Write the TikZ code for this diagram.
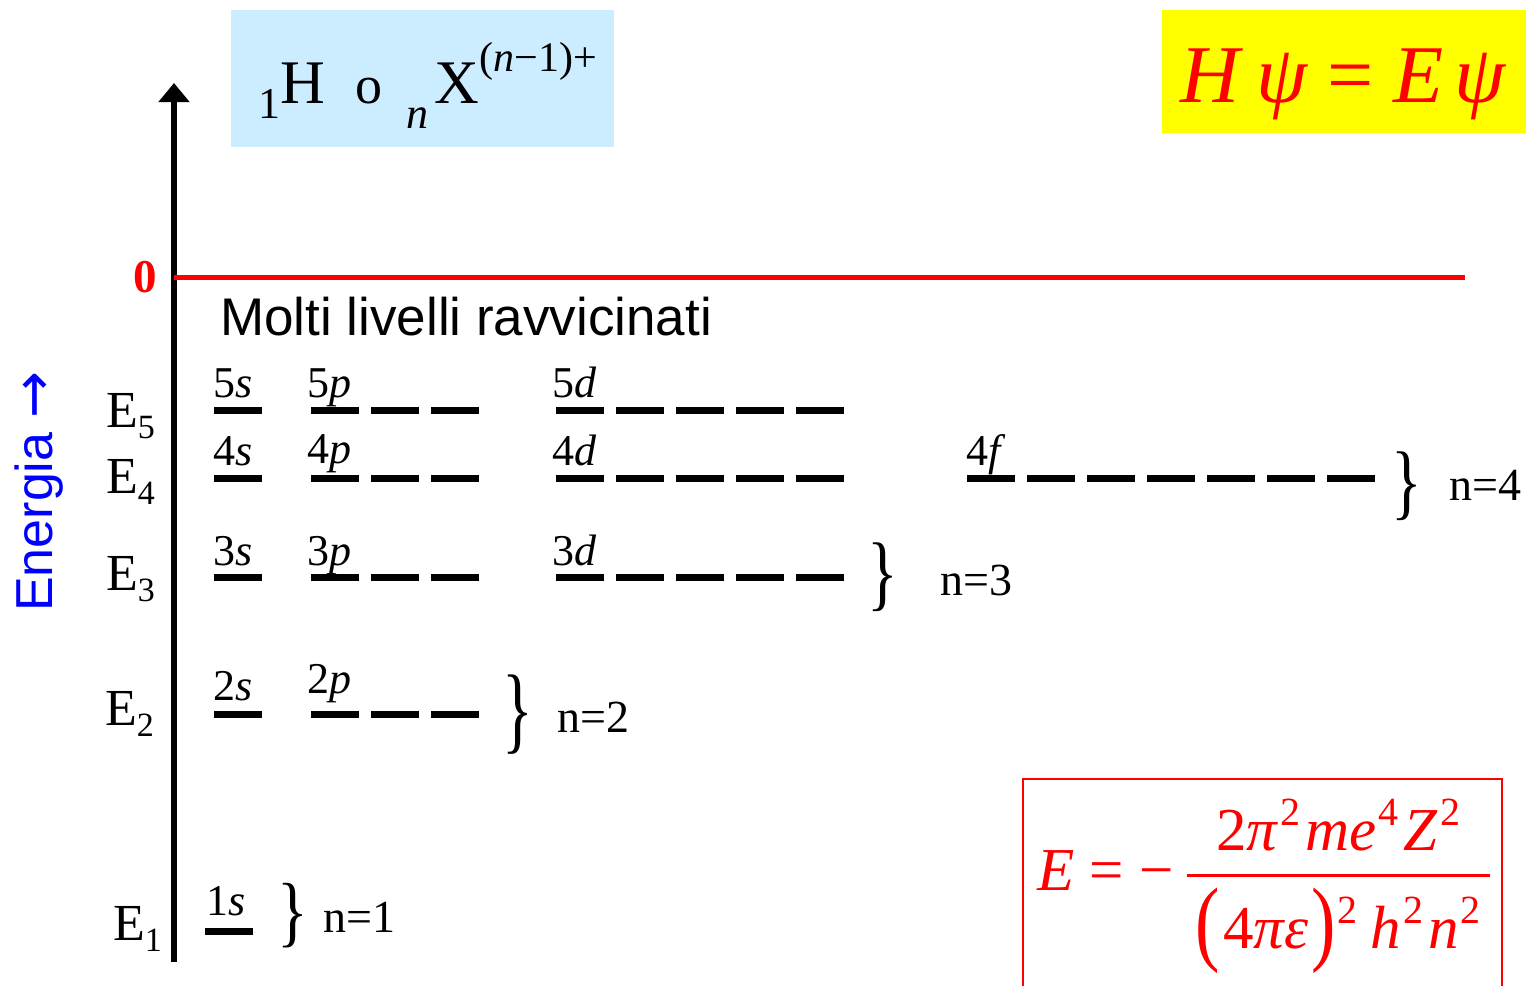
\documentclass[tikz,border=0pt]{standalone}
\usepackage{fontspec}
\setmainfont{Liberation Serif}
\setsansfont{Liberation Sans}
\newfontfamily\frecce{DejaVu Sans}
\usetikzlibrary{arrows.meta}

\definecolor{azzurro}{RGB}{204,236,255}
\definecolor{giallo}{RGB}{255,255,0}

% pedici e apici
\newcommand{\pedice}[1]{\raisebox{-11pt}{\fontsize{34}{34}\selectfont #1}}
\newcommand{\apice}[1]{\hspace{2pt}\raisebox{25pt}{\fontsize{40}{40}\selectfont #1}\hspace{5pt}}
\newcommand{\parentesi}[1]{\raisebox{-5pt}{\scalebox{1.2}[1.55]{#1}}}
\newcommand{\graffa}[1]{\scalebox{1}[#1]{\}}}

% tratti dei livelli: x iniziale, y, numero di orbitali
\newcommand{\orbitali}[3]{%
  \foreach \k in {1,...,#3} \draw[livello] ({#1+60*(\k-1)},#2) -- ++(48,0);}

\begin{document}
\begin{tikzpicture}[x=1pt, y=-1pt,
        % Stile per i tratti dei livelli energetici
        livello/.style={line width=7pt, black},
        % Stile per le etichette degli orbitali
        etich/.style={inner sep=0pt, anchor=base west, font=\fontsize{44}{44}\selectfont},
        % Stile per le etichette E_n
        energ/.style={inner sep=0pt, anchor=base west, font=\fontsize{52}{52}\selectfont},
        % Stile per le graffe e i numeri quantici
        graffa/.style={inner sep=0pt, font=\fontsize{64}{64}\selectfont},
        quant/.style={inner sep=0pt, anchor=base west, font=\fontsize{46}{46}\selectfont},
        formula/.style={inner sep=0pt, text=red, font=\fontsize{61}{61}\selectfont}
    ]
    \useasboundingbox (0,0) rectangle (1526,986);

    % --- RIQUADRI ---
    \fill[azzurro] (231,10) rectangle (614,147);
    \fill[giallo] (1162,10) rectangle (1526,133);
    \draw[red, line width=2pt] (1023,986) |- (1502,779) -- (1502,986);

    % --- ASSE DELLE ENERGIE ---
    \coordinate (base) at (174,962);
    \coordinate (cima) at (174,83);
    \draw[line width=6pt, -{Triangle[width=30pt,length=19pt]}] (base) -- (cima);
    \coordinate (zero) at (174,277);
    \coordinate (zerofine) at (1465,277);
    \draw[red, line width=5pt] (zero) -- (zerofine);
    \node[inner sep=0pt, anchor=base east, text=red, font=\bfseries\fontsize{47}{47}\selectfont] (z) at (157,292) {0};

    \node[rotate=90, inner sep=0pt, anchor=base west, text=blue, font=\sffamily\fontsize{52}{52}\selectfont] (energia) at (52,612) {Energia {\frecce\fontsize{56}{56}\selectfont →}};

    % --- TESTI IN ALTO ---
    \node[inner sep=0pt, anchor=base west, font=\fontsize{62}{62}\selectfont] (ione) at (258,103)
        {\raisebox{-15pt}{\fontsize{44}{44}\selectfont 1}H\hspace{31pt}{\fontsize{54}{54}\selectfont o}\hspace{24pt}\raisebox{-25pt}{\fontsize{44}{44}\selectfont\textit{n}}\hspace{6pt}X\raisebox{32pt}{\fontsize{42}{42}\selectfont(\textit{n}−1)+}};
    \node[inner sep=0pt, anchor=base west, text=red, font=\fontsize{82}{82}\selectfont] (schr) at (1180,102)
        {\textit{H}\hspace{13pt}\textit{ψ}\hspace{19pt}=\hspace{20pt}\textit{E}\hspace{11pt}\textit{ψ}};

    \node[inner sep=0pt, anchor=base west, font=\sffamily\fontsize{53}{53}\selectfont] (molti) at (220,335) {Molti livelli ravvicinati};

    % --- ETICHETTE E_n ---
    \node[energ] (E5) at (106,427) {E\pedice{5}};
    \node[energ] (E4) at (106,493) {E\pedice{4}};
    \node[energ] (E3) at (106,590) {E\pedice{3}};
    \node[energ] (E2) at (105,725) {E\pedice{2}};
    \node[energ] (E1) at (113,940) {E\pedice{1}};

    % --- LIVELLI ---
    \orbitali{214}{410}{1} \orbitali{311}{410}{3} \orbitali{556}{410}{5}
    \orbitali{214}{478}{1} \orbitali{311}{478}{3} \orbitali{556}{478}{5} \orbitali{967}{478}{7}
    \orbitali{214}{577}{1} \orbitali{311}{577}{3} \orbitali{556}{577}{5}
    \orbitali{214}{714}{1} \orbitali{311}{714}{3}
    \orbitali{205}{931}{1}

    \node[etich] (o5s) at (213,397) {5\textit{s}};
    \node[etich] (o5p) at (307,397) {5\textit{p}};
    \node[etich] (o5d) at (552,397) {5\textit{d}};
    \node[etich] (o4s) at (213,465) {4\textit{s}};
    \node[etich] (o4p) at (307,463) {4\textit{p}};
    \node[etich] (o4d) at (552,465) {4\textit{d}};
    \node[etich] (o4f) at (966,465) {4\textit{f}};
    \node[etich] (o3s) at (213,565) {3\textit{s}};
    \node[etich] (o3p) at (307,565) {3\textit{p}};
    \node[etich] (o3d) at (552,565) {3\textit{d}};
    \node[etich] (o2s) at (213,700) {2\textit{s}};
    \node[etich] (o2p) at (307,693) {2\textit{p}};
    \node[etich] (o1s) at (206,915) {1\textit{s}};

    % --- GRAFFE E NUMERI QUANTICI ---
    \node[graffa] (g4) at (1407,486) {\graffa{1.3}};
    \node[graffa] (g3) at (883,577) {\graffa{1.3}};
    \node[graffa] (g2) at (518,715) {\graffa{1.5}};
    \node[graffa] (g1) at (293,916) {\graffa{1.22}};
    \node[quant] (n4) at (1449,500) {n=4};
    \node[quant] (n3) at (940,595) {n=3};
    \node[quant] (n2) at (557,732) {n=2};
    \node[quant] (n1) at (323,932) {n=1};

    % --- ENERGIA DI BOHR ---
    \node[formula, anchor=base west] (Ef) at (1037,890) {\textit{E} = −};
    \node[formula, anchor=base] (num) at (1338,850) {2\textit{π}\apice{2}\textit{me}\apice{4}\textit{Z}\apice{2}};
    \node[formula, anchor=base] (den) at (1338,948) {\parentesi{(}\hspace{4pt}4\textit{πε}\hspace{3pt}\parentesi{)}\apice{2}\hspace{8pt}\textit{h}\apice{2}\textit{n}\apice{2}};
    \draw[red, line width=3pt] (1187,875) -- (1490,875);

\end{tikzpicture}
\end{document}
